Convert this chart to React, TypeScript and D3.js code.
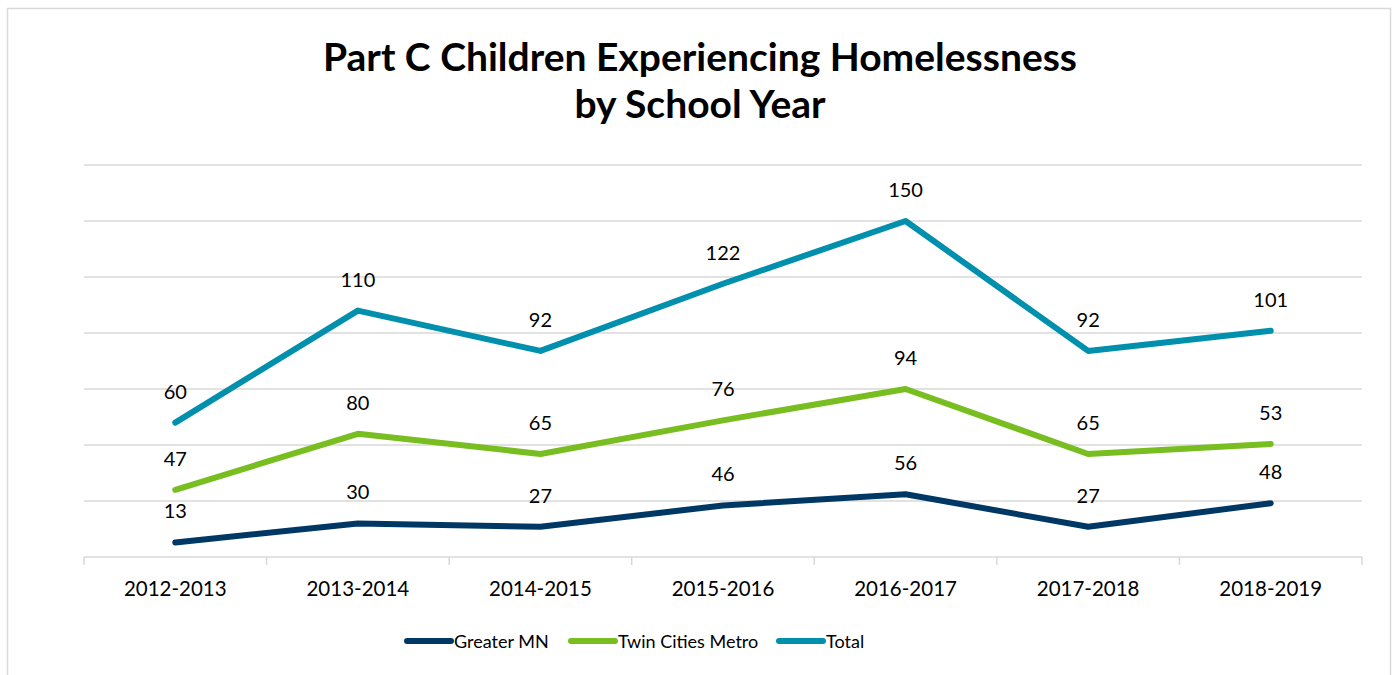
import React from 'react';
import * as d3 from 'd3';

const categories = ['2012-2013', '2013-2014', '2014-2015', '2015-2016', '2016-2017', '2017-2018', '2018-2019'];
const greaterMN = [13, 30, 27, 46, 56, 27, 48];
const twinCities = [47, 80, 65, 76, 94, 65, 53];
const total = [60, 110, 92, 122, 150, 92, 101];
const seriesNames = ['Greater MN', 'Twin Cities Metro', 'Total'];
const seriesColors = ['#003865', '#78BE20', '#0090AD'];
const yTicks = [0, 50, 100, 150, 200, 250, 300, 350];
const titleLines = ['Part C Children Experiencing Homelessness', 'by School Year'];

const W = 1396;
const H = 675;
const FONT = 'Lato, "Open Sans", sans-serif';

export default function App() {
  const rows = categories.map((c, i) => ({
    category: c,
    'Greater MN': greaterMN[i],
    'Twin Cities Metro': twinCities[i],
    Total: total[i],
  }));
  const raw: Record<string, number[]> = {
    'Greater MN': greaterMN,
    'Twin Cities Metro': twinCities,
    Total: total,
  };
  // Excel "stacked line" chart: each series is drawn on top of the previous ones
  const stacked = d3.stack<any>().keys(seriesNames)(rows);

  const x = d3.scaleBand().domain(categories).range([84, 1362]);
  const y = d3.scaleLinear().domain([0, 350]).range([557, 165]);
  const cx = (c: string) => (x(c) as number) + x.bandwidth() / 2;

  const line = d3
    .line<any>()
    .x((d) => cx(d.data.category))
    .y((d) => y(d[1]));

  const boundaries = [...categories.map((c) => x(c) as number), 1362];

  const legendItems = [
    { name: 'Greater MN', x0: 407 },
    { name: 'Twin Cities Metro', x0: 571 },
    { name: 'Total', x0: 779 },
  ];

  return (
    <svg
      width={W}
      height={H}
      style={{ position: 'fixed', left: 0, top: 0, background: '#fff' }}
      fontFamily={FONT}
    >
      <rect x={0} y={0} width={W} height={H} fill="#fff" />
      <rect x={7.5} y={8.5} width={1383} height={720} fill="none" stroke="#d9d9d9" strokeWidth={1.5} />

      {titleLines.map((t, i) => (
        <text
          key={i}
          x={700}
          y={71 + i * 47}
          textAnchor="middle"
          fontSize={39}
          fontWeight="bold"
          fill="#000"
        >
          {t}
        </text>
      ))}

      {yTicks.map((t) => (
        <line key={t} x1={84} x2={1362} y1={y(t)} y2={y(t)} stroke="#d9d9d9" strokeWidth={1.5} />
      ))}
      {boundaries.map((b, i) => (
        <line key={i} x1={b} x2={b} y1={y(0)} y2={y(0) + 8} stroke="#d9d9d9" strokeWidth={1.5} />
      ))}

      {categories.map((c) => (
        <text key={c} x={cx(c)} y={596} textAnchor="middle" fontSize={20.5} fill="#000">
          {c}
        </text>
      ))}

      {stacked.map((s, si) => (
        <path
          key={s.key}
          d={line(s as any) as string}
          fill="none"
          stroke={seriesColors[si]}
          strokeWidth={6}
          strokeLinecap="round"
          strokeLinejoin="round"
        />
      ))}

      {stacked.map((s) =>
        s.map((d: any, i: number) => (
          <text
            key={s.key + i}
            x={cx(d.data.category)}
            y={y(d[1]) - 24}
            textAnchor="middle"
            fontSize={20}
            fill="#000"
          >
            {raw[s.key][i]}
          </text>
        ))
      )}

      {legendItems.map((it, i) => (
        <g key={it.name}>
          <line
            x1={it.x0}
            x2={it.x0 + 44}
            y1={641}
            y2={641}
            stroke={seriesColors[i]}
            strokeWidth={6}
            strokeLinecap="round"
          />
          <text x={it.x0 + 47} y={648} fontSize={18} fill="#000">
            {it.name}
          </text>
        </g>
      ))}
    </svg>
  );
}
